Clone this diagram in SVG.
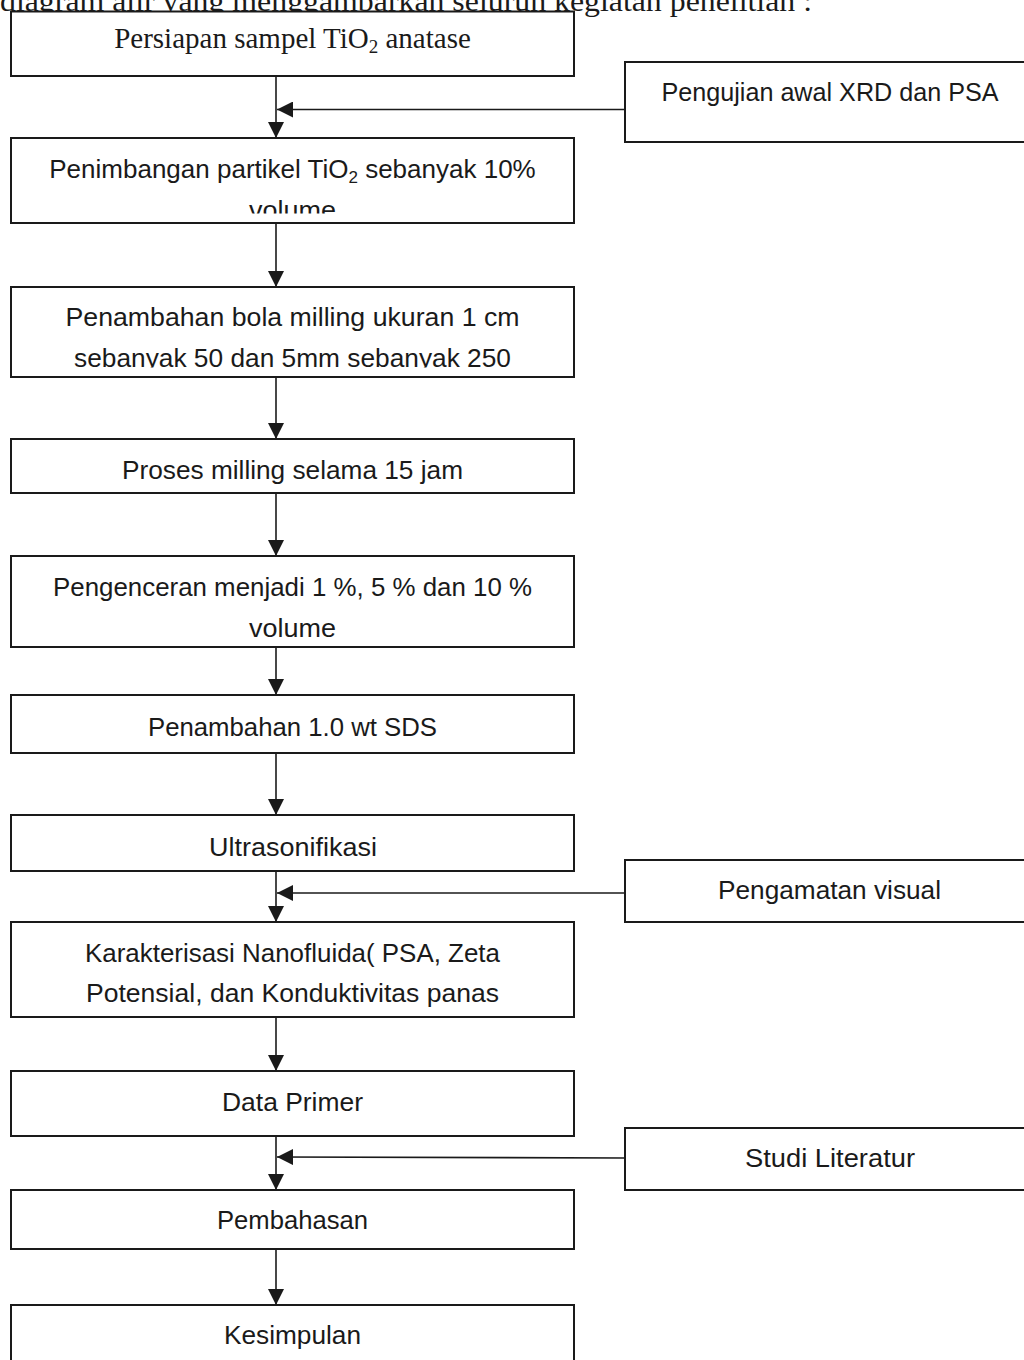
<svg xmlns="http://www.w3.org/2000/svg" width="1024" height="1360" viewBox="0 0 1024 1360">
<style>
  .box { fill: #ffffff; stroke: #1a1a1a; stroke-width: 2; }
  .t { font-family: "Liberation Sans", Arial, sans-serif; font-size: 26px; fill: #1a1a1a; text-anchor: middle; }
  .serif { font-family: "Liberation Serif", "Times New Roman", serif; fill: #1a1a1a; }
  .conn { stroke: #1a1a1a; stroke-width: 1.6; fill: none; }
</style>
<defs>
  <marker id="arrow" markerUnits="userSpaceOnUse" markerWidth="16" markerHeight="16" viewBox="0 0 15 15" refX="15" refY="7.5" orient="auto">
    <path d="M0,0 L15,7.5 L0,15 Z" fill="#1a1a1a"/>
  </marker>
  <clipPath id="clip2"><rect x="11" y="138" width="563" height="75.5"/></clipPath>
  <clipPath id="clip3"><rect x="11" y="287" width="563" height="80.5"/></clipPath>
</defs>
<rect x="0" y="0" width="1024" height="1360" fill="#ffffff"/>

<text class="serif" x="0" y="10.5" font-size="30" textLength="812" lengthAdjust="spacingAndGlyphs">diagram alir yang menggambarkan seluruh kegiatan penelitian :</text>

<g id="connectors">
  <line class="conn" x1="276" y1="76" x2="276" y2="138" marker-end="url(#arrow)"/>
  <line class="conn" x1="625" y1="109.5" x2="277" y2="109.5" marker-end="url(#arrow)"/>
  <line class="conn" x1="276" y1="223" x2="276" y2="287" marker-end="url(#arrow)"/>
  <line class="conn" x1="276" y1="377" x2="276" y2="439" marker-end="url(#arrow)"/>
  <line class="conn" x1="276" y1="493" x2="276" y2="556" marker-end="url(#arrow)"/>
  <line class="conn" x1="276" y1="647" x2="276" y2="695" marker-end="url(#arrow)"/>
  <line class="conn" x1="276" y1="753" x2="276" y2="815" marker-end="url(#arrow)"/>
  <line class="conn" x1="276" y1="871" x2="276" y2="922" marker-end="url(#arrow)"/>
  <line class="conn" x1="625" y1="893" x2="277" y2="893" marker-end="url(#arrow)"/>
  <line class="conn" x1="276" y1="1017" x2="276" y2="1071" marker-end="url(#arrow)"/>
  <line class="conn" x1="276" y1="1136" x2="276" y2="1190" marker-end="url(#arrow)"/>
  <line class="conn" x1="625" y1="1158" x2="277" y2="1157" marker-end="url(#arrow)"/>
  <line class="conn" x1="276" y1="1249" x2="276" y2="1305" marker-end="url(#arrow)"/>
</g>

<g id="n1">
  <rect class="box" x="11" y="11.5" width="563" height="64.5"/>
  <text class="serif" x="292.5" y="48" font-size="29" text-anchor="middle">Persiapan sampel TiO<tspan font-size="19" dy="5">2</tspan><tspan dy="-5"> anatase</tspan></text>
</g>

<g id="r1">
  <rect class="box" x="625" y="62" width="412" height="80"/>
  <text class="t" x="830" y="100.5" textLength="337" lengthAdjust="spacingAndGlyphs">Pengujian awal XRD dan PSA</text>
</g>

<g id="n2">
  <rect class="box" x="11" y="138" width="563" height="85"/>
  <g clip-path="url(#clip2)">
    <text class="t" x="292.5" y="178">Penimbangan partikel TiO<tspan font-size="17" dy="5">2</tspan><tspan dy="-5"> sebanyak 10%</tspan></text>
    <text class="t" x="292.5" y="219" textLength="87" lengthAdjust="spacingAndGlyphs">volume</text>
  </g>
</g>

<g id="n3">
  <rect class="box" x="11" y="287" width="563" height="90"/>
  <g clip-path="url(#clip3)">
    <text class="t" x="292.5" y="325.5" textLength="454" lengthAdjust="spacingAndGlyphs">Penambahan bola milling ukuran 1 cm</text>
    <text class="t" x="292.5" y="366.5" textLength="437" lengthAdjust="spacingAndGlyphs">sebanyak 50 dan 5mm sebanyak 250</text>
  </g>
</g>

<g id="n4">
  <rect class="box" x="11" y="439" width="563" height="54"/>
  <text class="t" x="292.5" y="478.5" textLength="341" lengthAdjust="spacingAndGlyphs">Proses milling selama 15 jam</text>
</g>

<g id="n5">
  <rect class="box" x="11" y="556" width="563" height="91"/>
  <text class="t" x="292.5" y="596" textLength="479" lengthAdjust="spacingAndGlyphs">Pengenceran menjadi 1 %, 5 % dan 10 %</text>
  <text class="t" x="292.5" y="637" textLength="87" lengthAdjust="spacingAndGlyphs">volume</text>
</g>

<g id="n6">
  <rect class="box" x="11" y="695" width="563" height="58"/>
  <text class="t" x="292.5" y="735.5" textLength="289" lengthAdjust="spacingAndGlyphs">Penambahan 1.0 wt SDS</text>
</g>

<g id="n7">
  <rect class="box" x="11" y="815" width="563" height="56"/>
  <text class="t" x="293" y="855.5" textLength="168" lengthAdjust="spacingAndGlyphs">Ultrasonifikasi</text>
</g>

<g id="r2">
  <rect class="box" x="625" y="860" width="412" height="62"/>
  <text class="t" x="829.5" y="899" textLength="223" lengthAdjust="spacingAndGlyphs">Pengamatan visual</text>
</g>

<g id="n8">
  <rect class="box" x="11" y="922" width="563" height="95"/>
  <text class="t" x="292.5" y="961.5" textLength="415" lengthAdjust="spacingAndGlyphs">Karakterisasi Nanofluida( PSA, Zeta</text>
  <text class="t" x="292.5" y="1002" textLength="413" lengthAdjust="spacingAndGlyphs">Potensial, dan Konduktivitas panas</text>
</g>

<g id="n9">
  <rect class="box" x="11" y="1071" width="563" height="65"/>
  <text class="t" x="292.5" y="1110.5" textLength="141" lengthAdjust="spacingAndGlyphs">Data Primer</text>
</g>

<g id="r3">
  <rect class="box" x="625" y="1128" width="412" height="62"/>
  <text class="t" x="830" y="1167" textLength="170" lengthAdjust="spacingAndGlyphs">Studi Literatur</text>
</g>

<g id="n10">
  <rect class="box" x="11" y="1190" width="563" height="59"/>
  <text class="t" x="292.5" y="1229" textLength="151" lengthAdjust="spacingAndGlyphs">Pembahasan</text>
</g>

<g id="n11">
  <rect class="box" x="11" y="1305" width="563" height="70"/>
  <text class="t" x="292.5" y="1344" textLength="137" lengthAdjust="spacingAndGlyphs">Kesimpulan</text>
</g>
</svg>
